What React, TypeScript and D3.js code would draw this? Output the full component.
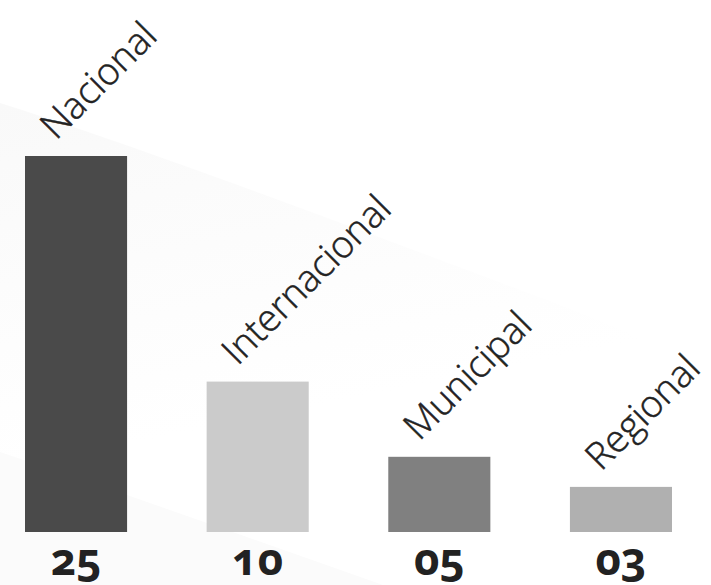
import React from "react";
import * as d3 from "d3";

const categories = ["Nacional", "Internacional", "Municipal", "Regional"];
const values = [25, 10, 5, 3];
const valueLabels = ["25", "10", "05", "03"];
const colors = ["#4a4a4a", "#cbcbcb", "#808080", "#b0b0b0"];

export default function App() {
  const W = 711, H = 585;
  const x = d3.scaleBand<string>().domain(categories).range([25, 672]).paddingInner(0.438).paddingOuter(0);
  const bw = x.bandwidth();
  const y = d3.scaleLinear().domain([0, 25]).range([532, 156]);

  const upper = "M0,103 C150,150 400,245 547,300 C620,328 670,350 711,372 L711,585 L0,585 Z";
  const lower = "M0,452 L127,495 L207,523 L383,585 L0,585 Z";

  return (
    <svg width={W} height={H} style={{ position: "absolute", left: 0, top: 0, background: "#fff" }}>
      <defs>
        <linearGradient id="bgg" x1="0" y1="0" x2="0.3" y2="1">
          <stop offset="0" stopColor="#f9f9f9" />
          <stop offset="0.7" stopColor="#ffffff" />
        </linearGradient>
      </defs>
      <path d={upper} fill="url(#bgg)" />
      <path d={lower} fill="#fbfbfb" />
      {categories.map((c, i) => (
        <rect key={c} x={x(c)} y={y(values[i])} width={bw} height={y(0) - y(values[i])} fill={colors[i]} />
      ))}
      {categories.map((c, i) => {
        const tx = (x(c) as number) + 31;
        const ty = y(values[i]) - 15;
        return (
          <text key={c} x={tx} y={ty} transform={`rotate(-45 ${tx} ${ty})`}
            fontFamily="'Open Sans', sans-serif" fontWeight={300} fontSize={37.5} fill="#222"
            stroke="#222" strokeWidth={0.5}>{c}</text>
        );
      })}
      {categories.map((c, i) => (
        <text key={c} x={(x(c) as number) + bw / 2} y={575} textAnchor="middle"
          fontFamily="'Open Sans', sans-serif" fontWeight={700} fontSize={44} fill="#222"
          style={{ fontVariantNumeric: "oldstyle-nums" }}>{valueLabels[i]}</text>
      ))}
    </svg>
  );
}
